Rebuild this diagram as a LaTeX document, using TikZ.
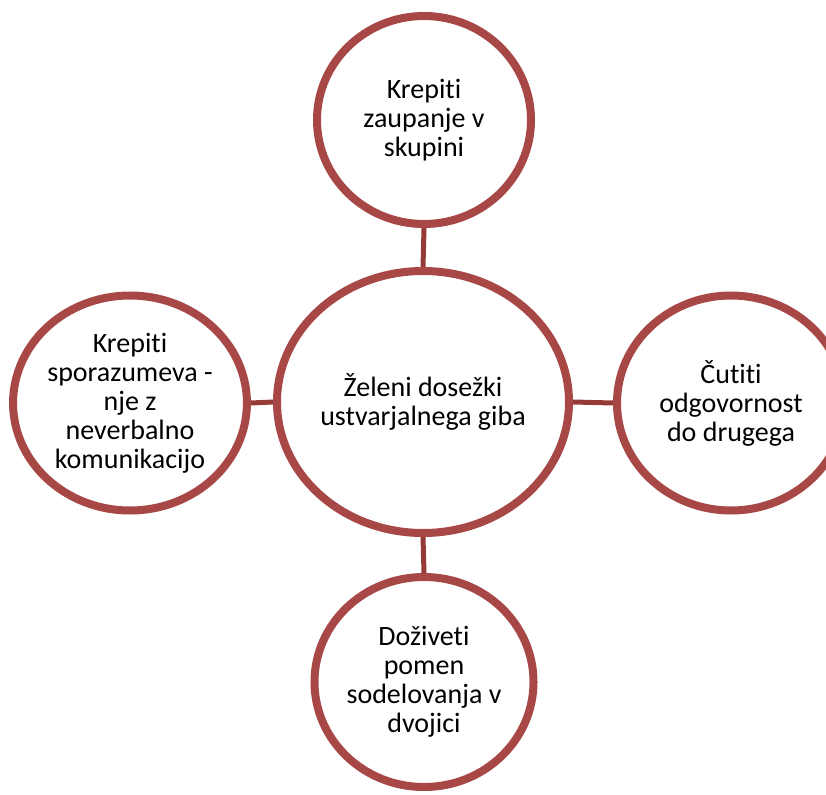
\documentclass[tikz,border=0pt]{standalone}
\usepackage{fontspec}
\setmainfont{Carlito}[Ligatures=NoCommon]
\usetikzlibrary{shapes.geometric,shadows,backgrounds}
\definecolor{ringred}{RGB}{168,72,70}
\definecolor{linkred}{RGB}{150,58,56}
\tikzset{
  goal/.style={ellipse, draw=ringred, line width=8pt, fill=white, inner sep=0pt,
    align=center, font=\fontsize{28}{29}\selectfont,
    drop shadow={opacity=0.18, shadow xshift=0pt, shadow yshift=-4pt}},
  link/.style={draw=linkred, line width=5pt}
}
\begin{document}
\begin{tikzpicture}[x=1pt,y=-1pt]
\useasboundingbox (0,0) rectangle (826,794);
\clip (0,0) rectangle (826,794);
% middle
\node[goal, minimum width=292pt, minimum height=262pt] (mid) at (423,402)
  {Želeni dosežki\\ustvarjalnega giba};
% outer ring
\node[goal, minimum width=214pt, minimum height=208pt] (top) at (424,120)
  {Krepiti\\zaupanje v\\skupini};
\node[goal, minimum width=228pt, minimum height=215pt] (left) at (130,403)
  {Krepiti\\sporazumeva -\\nje z\\neverbalno\\komunikacijo};
\node[goal, minimum width=228pt, minimum height=215pt] (right) at (731,403)
  {Čutiti\\odgovornost\\do drugega};
\node[goal, minimum width=214pt, minimum height=210pt] (bot) at (424,682)
  {Doživeti\\pomen\\sodelovanja v\\dvojici};
% spokes
\begin{pgfonlayer}{background}
\draw[link] (mid.north) -- (top.south);
\draw[link] (mid.west) -- (left.east);
\draw[link] (mid.east) -- (right.west);
\draw[link] (mid.south) -- (bot.north);
\end{pgfonlayer}
\end{tikzpicture}
\end{document}
